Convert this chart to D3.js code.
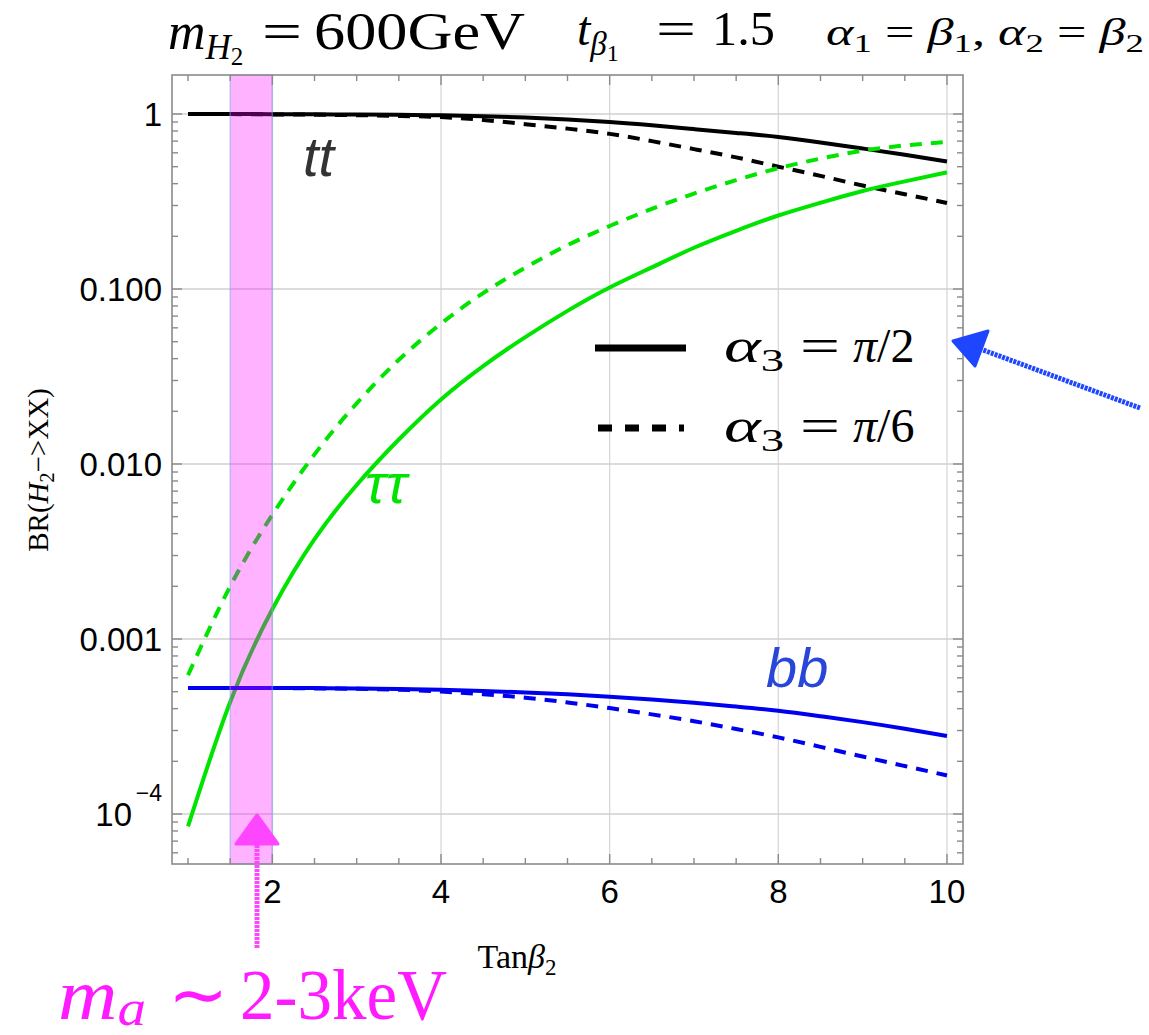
<!DOCTYPE html>
<html>
<head>
<meta charset="utf-8">
<script src="https://cdn.jsdelivr.net/npm/d3@7"></script>
<style>
body { margin: 0; background: #fff; }
svg { display: block; }
.tick-label { font-family: "Liberation Sans", Arial, sans-serif; fill: #000; }
.math { font-family: "Liberation Serif", "Times New Roman", serif; }
</style>
</head>
<body>
<script>
// data (even steps of 0.5 in tan beta_2)
const tanB = [1, 1.5, 2, 2.5, 3, 3.5, 4, 4.5, 5, 5.5, 6, 6.5, 7, 7.5, 8, 8.5, 9, 9.5, 10];
const ttSolid = [1.0, 1.0, 0.998, 0.996, 0.993, 0.989, 0.983, 0.972, 0.955, 0.93, 0.90, 0.862, 0.82, 0.78, 0.74, 0.688, 0.635, 0.585, 0.536];
const ttDash = [1.0, 0.999, 0.995, 0.991, 0.985, 0.975, 0.96, 0.925, 0.875, 0.825, 0.77, 0.70, 0.63, 0.565, 0.50, 0.443, 0.39, 0.348, 0.31];
const tauSolid = [8.5e-5, 4.37e-4, 1.48e-3, 3.72e-3, 7.59e-3, 0.0138, 0.0234, 0.0363, 0.0531, 0.075, 0.102, 0.133, 0.172, 0.215, 0.263, 0.311, 0.363, 0.412, 0.464];
const tauDash = [6.22e-4, 2.0e-3, 5.13e-3, 0.01135, 0.0222, 0.0394, 0.0634, 0.0948, 0.1324, 0.178, 0.229, 0.287, 0.351, 0.419, 0.49, 0.556, 0.617, 0.661, 0.692];
const bbSolid = [5.25e-4, 5.25e-4, 5.25e-4, 5.24e-4, 5.21e-4, 5.18e-4, 5.13e-4, 5.05e-4, 4.95e-4, 4.83e-4, 4.68e-4, 4.51e-4, 4.32e-4, 4.11e-4, 3.89e-4, 3.62e-4, 3.35e-4, 3.07e-4, 2.79e-4];
const bbDash = [5.25e-4, 5.25e-4, 5.25e-4, 5.22e-4, 5.19e-4, 5.13e-4, 5.01e-4, 4.84e-4, 4.62e-4, 4.34e-4, 4.03e-4, 3.71e-4, 3.39e-4, 3.06e-4, 2.74e-4, 2.42e-4, 2.13e-4, 1.88e-4, 1.66e-4];

const xTicks = [2, 4, 6, 8, 10];
const yTicks = [1e-4, 1e-3, 1e-2, 1e-1, 1];
const yTickLabels = ["10", "0.001", "0.010", "0.100", "1"];
const band = [1.5, 2.0];   // m_a ~ 2-3 keV region

const green = "#00e400", blueLine = "#0000f0";
const series = [
  { vals: ttSolid, color: "#000", dash: null },
  { vals: ttDash, color: "#000", dash: "12,9" },
  { vals: tauSolid, color: green, dash: null },
  { vals: tauDash, color: green, dash: "12,9" },
  { vals: bbSolid, color: blueLine, dash: null },
  { vals: bbDash, color: blueLine, dash: "12,9" }
];

const W = 1149, H = 1035;
const pL = 172, pR = 963, pT = 75, pB = 864;

const svg = d3.select("body").append("svg")
    .attr("width", W).attr("height", H);

const x = d3.scaleLinear().domain([0.81, 10.19]).range([pL, pR]);
const y = d3.scaleLog().domain([Math.pow(10, -4.2857), Math.pow(10, 0.2229)]).range([pB, pT]);

// grid
const grid = svg.append("g");
grid.selectAll(".gx").data(xTicks).enter().append("line")
    .attr("x1", d => x(d)).attr("x2", d => x(d))
    .attr("y1", pT).attr("y2", pB)
    .attr("stroke", "#d8d8d8").attr("stroke-width", 1.3);
grid.selectAll(".gy").data(yTicks).enter().append("line")
    .attr("x1", pL).attr("x2", pR)
    .attr("y1", d => y(d)).attr("y2", d => y(d))
    .attr("stroke", "#d0d0d0").attr("stroke-width", 1.3);

// curves
const line = d3.line()
    .x((d, i) => x(tanB[i]))
    .y(d => y(d))
    .curve(d3.curveNatural);

svg.append("g").selectAll("path").data(series).enter().append("path")
    .attr("d", d => line(d.vals))
    .attr("fill", "none")
    .attr("stroke", d => d.color)
    .attr("stroke-width", 4)
    .attr("stroke-dasharray", d => d.dash);

// shaded band, drawn over the curves
svg.append("rect")
    .attr("x", x(band[0])).attr("width", x(band[1]) - x(band[0]))
    .attr("y", pT).attr("height", pB - pT)
    .attr("fill", "rgb(255,0,255)").attr("fill-opacity", 0.3)
    .attr("stroke", "rgb(120,170,230)").attr("stroke-opacity", 0.5).attr("stroke-width", 1.5);

// frame
svg.append("rect")
    .attr("x", pL).attr("y", pT)
    .attr("width", pR - pL).attr("height", pB - pT)
    .attr("fill", "none").attr("stroke", "#8a8a8a").attr("stroke-width", 1.6);

// ticks
const xMinor = d3.range(1, 10.01, 0.5).filter(v => xTicks.indexOf(v) < 0);
const yMinor = [];
[-5, -4, -3, -2, -1].forEach(e => {
  for (let k = 2; k <= 9; k++) {
    const v = k * Math.pow(10, e);
    if (v >= y.domain()[0]) yMinor.push(v);
  }
});
const tk = svg.append("g").attr("stroke", "#8a8a8a").attr("stroke-width", 1.4);
function xtick(v, len) {
  tk.append("line").attr("x1", x(v)).attr("x2", x(v)).attr("y1", pB).attr("y2", pB - len);
  tk.append("line").attr("x1", x(v)).attr("x2", x(v)).attr("y1", pT).attr("y2", pT + len);
}
function ytick(v, len) {
  tk.append("line").attr("x1", pL).attr("x2", pL + len).attr("y1", y(v)).attr("y2", y(v));
  tk.append("line").attr("x1", pR).attr("x2", pR - len).attr("y1", y(v)).attr("y2", y(v));
}
xTicks.forEach(v => xtick(v, 10));
xMinor.forEach(v => xtick(v, 6));
yTicks.forEach(v => ytick(v, 10));
yMinor.forEach(v => ytick(v, 6));

// tick labels
svg.selectAll(".xl").data(xTicks).enter().append("text")
    .attr("class", "tick-label").attr("font-size", 33)
    .attr("x", d => x(d)).attr("y", pB + 39)
    .attr("text-anchor", "middle")
    .text(d => d);

svg.selectAll(".yl").data(yTicks).enter().append("text")
    .attr("class", "tick-label").attr("font-size", 33)
    .attr("x", d => d === 1e-4 ? pL - 40 : pL - 10).attr("y", d => y(d) + 12)
    .attr("text-anchor", "end")
    .text((d, i) => yTickLabels[i]);
svg.append("text").attr("class", "tick-label").attr("font-size", 23)
    .attr("x", pL - 10).attr("y", y(1e-4) - 13)
    .attr("text-anchor", "end").text("\u22124");

// axis titles
const xl = svg.append("text").attr("class", "math")
    .attr("x", 517).attr("y", 968).attr("text-anchor", "middle")
    .attr("font-size", 34);
xl.append("tspan").text("Tan");
xl.append("tspan").attr("font-style", "italic").text("\u03b2");
xl.append("tspan").attr("font-size", 23).attr("dy", 7).text("2");

const yl = svg.append("text").attr("class", "math")
    .attr("transform", "translate(48,470) rotate(-90)")
    .attr("text-anchor", "middle").attr("font-size", 29);
yl.append("tspan").text("BR(");
yl.append("tspan").attr("font-style", "italic").text("H");
yl.append("tspan").attr("font-size", 20).attr("dy", 6).text("2");
yl.append("tspan").attr("dy", -6).text("\u2212>XX)");

// title
const title = svg.append("g").attr("class", "math");
const t1 = title.append("text").attr("x", 168).attr("y", 49).attr("font-size", 52);
t1.append("tspan").attr("font-style", "italic").text("m");
t1.append("tspan").attr("font-style", "italic").attr("font-size", 35).attr("dy", 10).text("H");
t1.append("tspan").attr("font-size", 25).attr("dy", 6).text("2");
title.append("text").attr("x", 262).attr("y", 49).attr("font-size", 52)
    .attr("textLength", 40).attr("lengthAdjust", "spacingAndGlyphs").text("=");
title.append("text").attr("x", 314).attr("y", 49).attr("font-size", 52)
    .attr("textLength", 211).attr("lengthAdjust", "spacingAndGlyphs").text("600GeV");

const t2 = title.append("text").attr("x", 577).attr("y", 45).attr("font-size", 48);
t2.append("tspan").attr("font-style", "italic").text("t");
t2.append("tspan").attr("font-style", "italic").attr("font-size", 33).attr("dy", 10).text("\u03b2");
t2.append("tspan").attr("font-size", 24).attr("dy", 6).text("1");
title.append("text").attr("x", 656).attr("y", 45).attr("font-size", 48)
    .attr("textLength", 40).attr("lengthAdjust", "spacingAndGlyphs").text("=");
title.append("text").attr("x", 712).attr("y", 45).attr("font-size", 48)
    .attr("textLength", 63).attr("lengthAdjust", "spacingAndGlyphs").text("1.5");

const t3 = title.append("text").attr("x", 826).attr("y", 45).attr("font-size", 37)
    .attr("textLength", 318).attr("lengthAdjust", "spacingAndGlyphs");
[["\u03b1", "1", " = "], ["\u03b2", "1", ", "], ["\u03b1", "2", " = "], ["\u03b2", "2", ""]].forEach(p => {
  t3.append("tspan").attr("font-style", "italic").text(p[0]);
  t3.append("tspan").attr("font-size", 26).attr("dy", 7).text(p[1]);
  t3.append("tspan").attr("dy", -7).text(p[2]);
});

// curve labels
const lab = svg.append("g").attr("font-family", "Liberation Sans, Arial, sans-serif")
    .attr("font-style", "italic").attr("font-size", 56);
lab.append("text").attr("x", 303).attr("y", 176).attr("fill", "#333").text("tt");
lab.append("text").attr("x", 365).attr("y", 503).attr("fill", green).text("\u03c4\u03c4");
lab.append("text").attr("x", 766).attr("y", 687).attr("fill", "#2846d8").text("bb");

// legend
const legend = svg.append("g");
legend.append("line").attr("x1", 595).attr("x2", 686).attr("y1", 348).attr("y2", 348)
    .attr("stroke", "#000").attr("stroke-width", 7);
legend.append("line").attr("x1", 598).attr("x2", 684).attr("y1", 428).attr("y2", 428)
    .attr("stroke", "#000").attr("stroke-width", 7).attr("stroke-dasharray", "14,13");
["2", "6"].forEach((v, i) => {
  const yy = 362 + i * 80;
  const t = legend.append("text").attr("class", "math")
      .attr("x", 724).attr("y", yy).attr("font-size", 48)
      .attr("textLength", 60).attr("lengthAdjust", "spacingAndGlyphs");
  t.append("tspan").attr("font-style", "italic").text("\u03b1");
  t.append("tspan").attr("font-size", 32).attr("dy", 9).text("3");
  legend.append("text").attr("class", "math").attr("x", 800).attr("y", yy)
      .attr("font-size", 48).attr("textLength", 40).attr("lengthAdjust", "spacingAndGlyphs").text("=");
  const r = legend.append("text").attr("class", "math").attr("x", 853).attr("y", yy)
      .attr("font-size", 48);
  r.append("tspan").attr("font-style", "italic").text("\u03c0");
  r.append("tspan").text("/" + v);
});

// hand drawn arrows
const blue = "rgb(30,70,255)";
svg.append("line").attr("x1", 1140).attr("y1", 408).attr("x2", 975).attr("y2", 347)
    .attr("stroke", blue).attr("stroke-width", 5).attr("stroke-dasharray", "3,1");
svg.append("path").attr("d", "M953,341 L988,331 L975,366 Z")
    .attr("fill", blue).attr("stroke", blue).attr("stroke-width", 3).attr("stroke-linejoin", "round");

const mag = "rgb(255,70,255)";
svg.append("line").attr("x1", 257).attr("y1", 948).attr("x2", 257).attr("y2", 840)
    .attr("stroke", mag).attr("stroke-width", 5).attr("stroke-dasharray", "3,1");
svg.append("path").attr("d", "M257,815 L236,844 L278,844 Z")
    .attr("fill", mag).attr("stroke", mag).attr("stroke-width", 3).attr("stroke-linejoin", "round");

// bottom annotation
const ann = svg.append("g").attr("class", "math").attr("fill", "#ff1aff");
const ma = ann.append("text").attr("x", 58).attr("y", 1019).attr("font-size", 72)
    .attr("textLength", 88).attr("lengthAdjust", "spacingAndGlyphs");
ma.append("tspan").attr("font-style", "italic").text("m");
ma.append("tspan").attr("font-style", "italic").attr("font-size", 50).attr("dy", 6).text("a");
ann.append("text").attr("x", 168).attr("y", 1019).attr("font-size", 72).text("\u223c");
ann.append("text").attr("x", 240).attr("y", 1019).attr("font-size", 72)
    .attr("textLength", 207).attr("lengthAdjust", "spacingAndGlyphs").text("2-3keV");
</script>
</body>
</html>
